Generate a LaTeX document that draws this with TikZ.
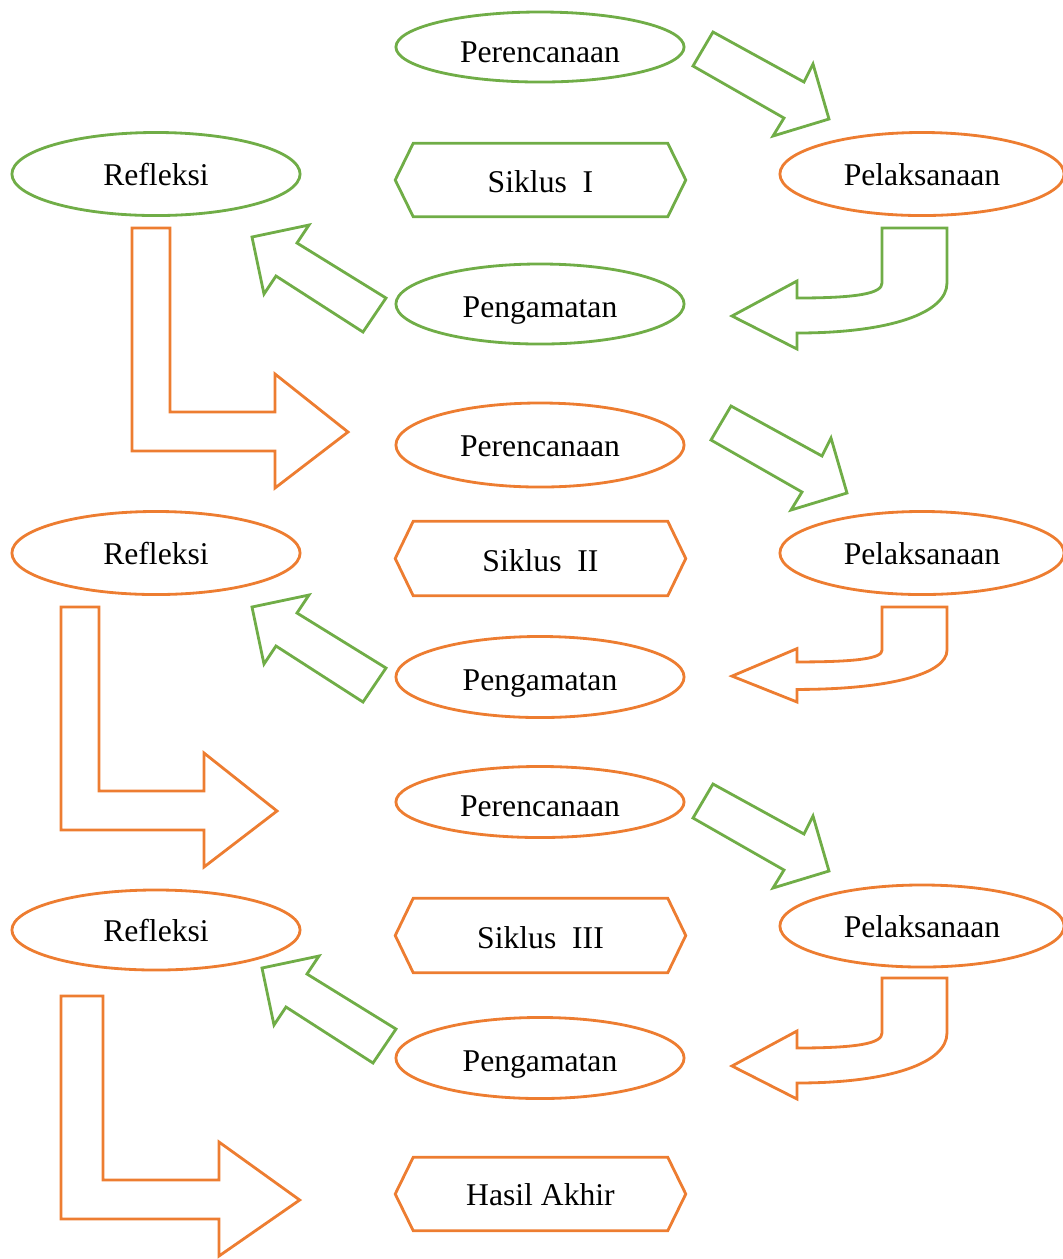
\documentclass[tikz,border=0pt]{standalone}
\usepackage{fontspec}
\setmainfont{Liberation Serif}
\usetikzlibrary{calc,shapes.geometric}
\definecolor{leaf}{HTML}{70AD47}
\definecolor{tangerine}{HTML}{ED7D31}
\tikzset{
  stage/.style={ellipse, draw=#1, line width=0.8pt, inner sep=0pt, minimum width=2.88cm, text height=0.23cm, text depth=0pt, font=\fontsize{9}{11}\selectfont},
  plate/.style={rectangle, inner sep=0pt, minimum width=2.89cm, minimum height=0.72cm, text height=0.25cm, text depth=0pt, font=\fontsize{9}{11}\selectfont},
  lowtext/.style={text height=#1},
  blockarrow/.style={draw=#1, line width=0.8pt, line join=miter}
}
% hexagon round a plate node
\newcommand{\hexplate}[2]{\draw[#2, line width=0.8pt] (#1.west) -- ($(#1.north west)+(18,0)$) -- ($(#1.north east)+(-18,0)$) -- (#1.east) -- ($(#1.south east)+(-18,0)$) -- ($(#1.south west)+(18,0)$) -- cycle;}
% arrow Perencanaan -> Pelaksanaan
\newcommand{\planarrow}[3]{\draw[blockarrow=#1, shift={(#2,#3)}] (713,32) -- (804,82) -- (813,64) -- (829,119) -- (773,136) -- (784,118) -- (693,66) -- cycle;}
% arrow Pelaksanaan -> Pengamatan
\newcommand{\turnarrow}[3]{\draw[blockarrow=#1, shift={(0,#2)}, yscale=#3] (882,0) -- (947,0) -- (947,55) .. controls (947,85) and (890,105) .. (797,105) -- (797,121) -- (732,88) -- (797,53) -- (797,70) .. controls (860,70) and (882,65) .. (882,55) -- cycle;}
% arrow Pengamatan -> Refleksi
\newcommand{\reflectarrow}[3]{\draw[blockarrow=#1, shift={(#2,#3)}] (252,237) -- (309,225) -- (297,243) -- (386,298) -- (363,332) -- (276,276) -- (264,294) -- cycle;}
% arrow Refleksi -> next cycle
\newcommand{\stepback}[4]{\draw[blockarrow=#1, shift={(#2,#3)}, xscale=#4] (0,0) -- (38,0) -- (38,184) -- (143,184) -- (143,146) -- (216,204) -- (143,260) -- (143,223) -- (0,223) -- cycle;}

\begin{document}
\begin{tikzpicture}[x=0.01cm, y=-0.01cm]
  \useasboundingbox (0,0) rectangle (1062,1259);
  %%%%% SIKLUS I %%%%%
  \node[stage=leaf, minimum height=0.70cm, lowtext=0.31cm] (plan1) at (540,47) {Perencanaan};
  \node[stage=leaf, minimum height=0.83cm] (refl1) at (156,174) {Refleksi};
  \node[stage=tangerine, minimum width=2.84cm, minimum height=0.83cm] (act1) at (922,174) {Pelaksanaan};
  \node[plate] (cyc1) at (540.5,180) {Siklus~~I};
  \hexplate{cyc1}{leaf}
  \node[stage=leaf, minimum height=0.80cm, lowtext=0.27cm] (obs1) at (540,304) {Pengamatan};
  \planarrow{leaf}{0}{0}
  \turnarrow{leaf}{228}{1}
  \reflectarrow{leaf}{0}{0}
  \stepback{tangerine}{132}{228}{1}

  %%%%% SIKLUS II %%%%%
  \node[stage=tangerine, minimum height=0.84cm] (plan2) at (540,445) {Perencanaan};
  \node[stage=tangerine, minimum height=0.83cm] (refl2) at (156,553) {Refleksi};
  \node[stage=tangerine, minimum width=2.84cm, minimum height=0.83cm] (act2) at (922,553) {Pelaksanaan};
  \node[plate, minimum height=0.73cm] (cyc2) at (540.5,558.5) {Siklus~~II};
  \hexplate{cyc2}{tangerine}
  \node[stage=tangerine, minimum height=0.81cm, lowtext=0.27cm] (obs2) at (540,677) {Pengamatan};
  \planarrow{leaf}{18}{374}
  \turnarrow{tangerine}{607}{0.785}
  \reflectarrow{leaf}{0}{370}
  \stepback{tangerine}{61}{607}{1}

  %%%%% SIKLUS III %%%%%
  \node[stage=tangerine, minimum height=0.71cm, lowtext=0.29cm] (plan3) at (540,802) {Perencanaan};
  \node[stage=tangerine, minimum height=0.80cm] (refl3) at (156,930) {Refleksi};
  \node[stage=tangerine, minimum width=2.84cm, minimum height=0.82cm] (act3) at (922,926) {Pelaksanaan};
  \node[plate, minimum height=0.73cm] (cyc3) at (540.5,935.5) {Siklus~~III};
  \hexplate{cyc3}{tangerine}
  \node[stage=tangerine, minimum height=0.81cm, lowtext=0.27cm] (obs3) at (540,1058) {Pengamatan};
  \planarrow{leaf}{0}{752}
  \turnarrow{tangerine}{978}{1}
  \reflectarrow{leaf}{10}{731}
  \stepback{tangerine}{61}{996}{1.105}

  %%%%% END %%%%%
  \node[plate, text height=0.23cm] (final) at (540.5,1194) {Hasil Akhir};
  \hexplate{final}{tangerine}
\end{tikzpicture}
\end{document}
